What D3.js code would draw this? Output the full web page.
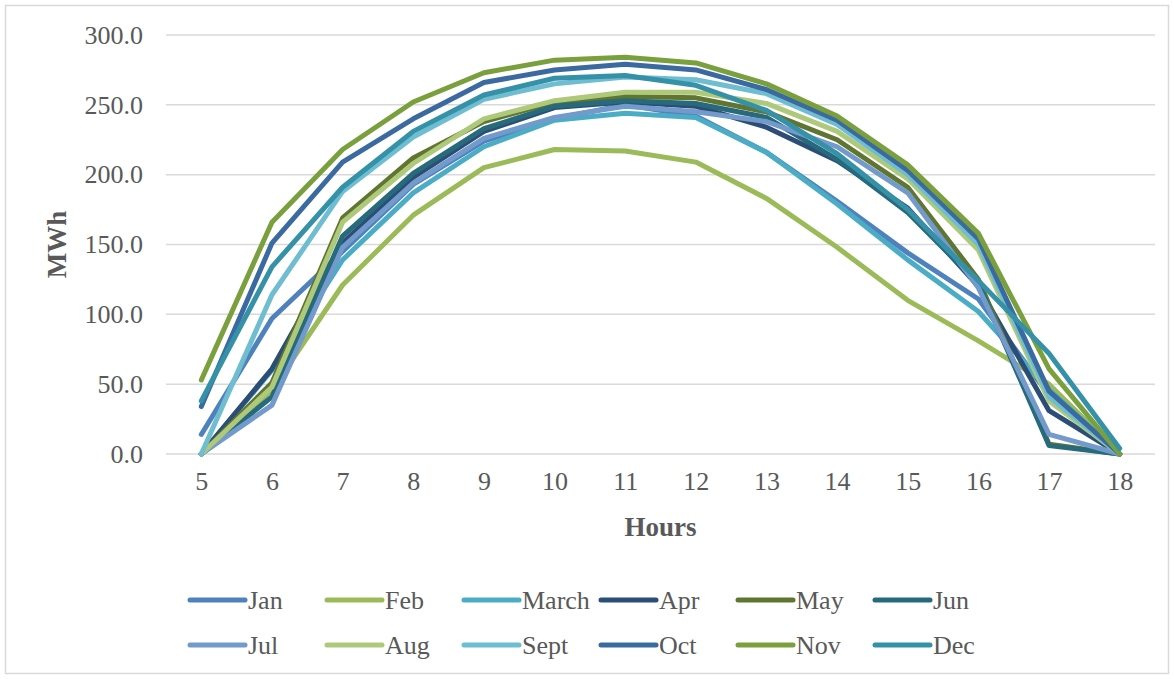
<!DOCTYPE html>
<html>
<head>
<meta charset="utf-8">
<script src="https://cdn.jsdelivr.net/npm/d3@7"></script>
<style>
  html, body { margin: 0; padding: 0; background: #fff; }
  svg text { font-family: "Liberation Serif", "Times New Roman", serif; fill: #595959; }
</style>
</head>
<body>
<svg id="chart" width="1174" height="679"></svg>
<script>
// Hourly energy output (MWh) per month
const hours = [5, 6, 7, 8, 9, 10, 11, 12, 13, 14, 15, 16, 17, 18];
const months = ["Jan", "Feb", "March", "Apr", "May", "Jun", "Jul", "Aug", "Sept", "Oct", "Nov", "Dec"];
const yTicks = [0, 50, 100, 150, 200, 250, 300];

const jan   = [14, 97, 145, 193, 224, 240, 250, 242, 216, 181, 144, 111, 42, 0];
const feb   = [0, 46, 121, 171, 205, 218, 217, 209, 183, 148, 110, 81, 50, 0];
const march = [0, 60, 139, 187, 220, 239, 244, 241, 216, 179, 139, 102, 46, 0];
const apr   = [0, 61, 151, 198, 231, 248, 252, 249, 234, 210, 176, 120, 31, 0];
const may   = [0, 51, 169, 212, 238, 252, 256, 255, 245, 225, 191, 125, 7, 0];
const jun   = [0, 41, 156, 201, 233, 249, 253, 251, 241, 211, 173, 122, 6, 0];
const jul   = [0, 35, 148, 194, 226, 241, 249, 245, 238, 220, 187, 119, 14, 0];
const aug   = [0, 48, 166, 208, 240, 253, 259, 259, 251, 231, 197, 146, 38, 0];
const sept  = [0, 114, 188, 227, 254, 265, 270, 268, 258, 236, 200, 150, 41, 0];
const oct   = [34, 151, 209, 240, 266, 275, 279, 275, 261, 239, 203, 154, 45, 0];
const nov   = [53, 166, 218, 252, 273, 282, 284, 280, 265, 242, 207, 158, 61, 0];
const dec   = [38, 134, 191, 231, 257, 269, 271, 264, 246, 215, 175, 124, 72, 4];

const seriesValues = [jan, feb, march, apr, may, jun, jul, aug, sept, oct, nov, dec];
const colors = ["#4f81bd", "#9bbb59", "#4bacc6", "#2c4d75", "#5f7530", "#276a7c",
                "#729aca", "#afc97a", "#6fbdd1", "#3a6aa0", "#7a9f3d", "#3591a8"];

const svg = d3.select("#chart");
const W = 1174, H = 679;

// outer chart frame
svg.append("rect")
  .attr("x", 5.5).attr("y", 5.5)
  .attr("width", W - 11).attr("height", H - 11)
  .attr("fill", "#fff").attr("stroke", "#d9d9d9").attr("stroke-width", 1.5);

const plot = { left: 166, right: 1155, top: 35, bottom: 454 };

const x = d3.scalePoint().domain(hours).range([plot.left, plot.right]).padding(0.5);
const y = d3.scaleLinear().domain([0, 300]).range([plot.bottom, plot.top]);

// horizontal gridlines
svg.append("g")
  .selectAll("line")
  .data(yTicks)
  .join("line")
  .attr("x1", plot.left).attr("x2", plot.right)
  .attr("y1", d => y(d)).attr("y2", d => y(d))
  .attr("stroke", "#d9d9d9").attr("stroke-width", 1.5);

// y axis labels
const yAxis = d3.axisLeft(y).tickValues(yTicks).tickFormat(d3.format(".1f")).tickSize(0).tickPadding(0);
const gy = svg.append("g").attr("transform", `translate(${plot.left - 23},0)`).call(yAxis);
gy.select(".domain").remove();
gy.selectAll("text").attr("font-size", 26).attr("fill", "#595959")
  .style("font-family", "'Liberation Serif', serif");

// x axis labels
const xAxis = d3.axisBottom(x).tickSize(0).tickPadding(0);
const gx = svg.append("g").attr("transform", `translate(0,${plot.bottom + 18})`).call(xAxis);
gx.select(".domain").remove();
gx.selectAll("text").attr("font-size", 26).attr("fill", "#595959")
  .style("font-family", "'Liberation Serif', serif");

// axis titles
svg.append("text")
  .attr("x", (plot.left + plot.right) / 2).attr("y", 536)
  .attr("text-anchor", "middle").attr("font-size", 27).attr("font-weight", "bold")
  .text("Hours");
svg.append("text")
  .attr("transform", `translate(66,${(plot.top + plot.bottom) / 2}) rotate(-90)`)
  .attr("text-anchor", "middle").attr("font-size", 27).attr("font-weight", "bold")
  .text("MWh");

// series lines
const line = d3.line()
  .x((d, i) => x(hours[i]))
  .y(d => y(d));

svg.append("g")
  .selectAll("path")
  .data(seriesValues)
  .join("path")
  .attr("d", d => line(d))
  .attr("fill", "none")
  .attr("stroke", (d, i) => colors[i])
  .attr("stroke-width", 5)
  .attr("stroke-linejoin", "round")
  .attr("stroke-linecap", "round");

// legend, two rows of six
const legend = svg.append("g");
const item = legend.selectAll("g")
  .data(months)
  .join("g")
  .attr("transform", (d, i) => `translate(${190 + (i % 6) * 137},${i < 6 ? 600 : 645})`);
item.append("line")
  .attr("x1", 0).attr("x2", 55).attr("y1", 0).attr("y2", 0)
  .attr("stroke", (d, i) => colors[i]).attr("stroke-width", 5).attr("stroke-linecap", "round");
item.append("text")
  .attr("x", 58).attr("y", 9)
  .attr("font-size", 26)
  .text(d => d);
</script>
</body>
</html>
